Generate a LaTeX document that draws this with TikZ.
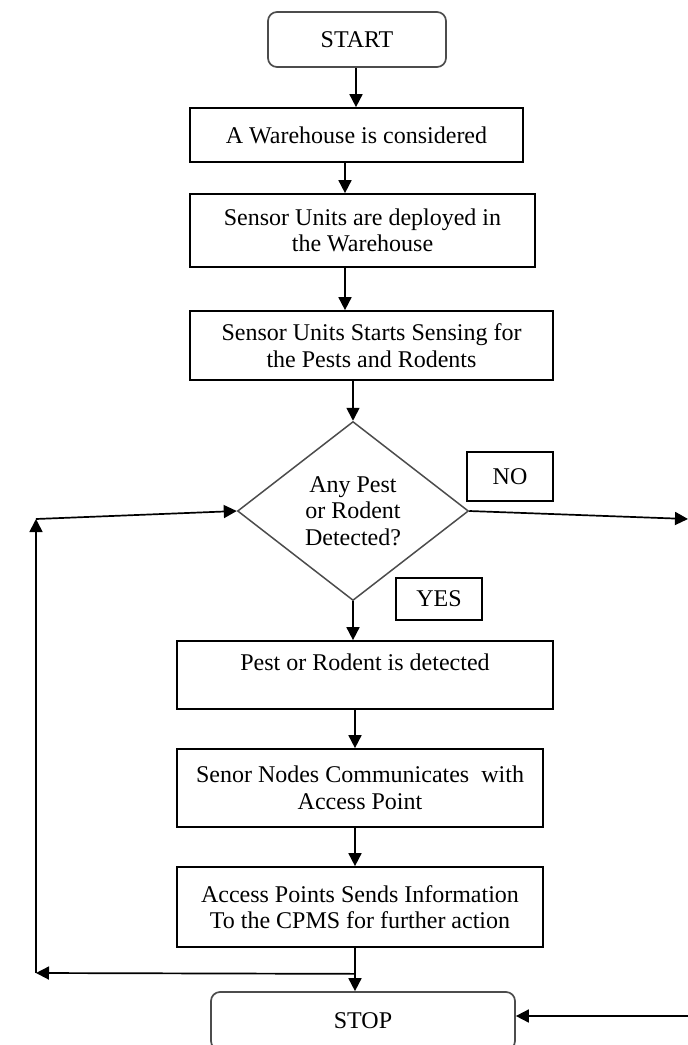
\documentclass[tikz,border=0pt]{standalone}
\usepackage{fontspec}
\setmainfont{Liberation Serif}
\usetikzlibrary{shapes.geometric,arrows.meta}
\begin{document}
\begin{tikzpicture}[x=1pt,y=-1pt,
  every node/.style={font=\fontsize{24}{26.5}\selectfont, align=center, inner sep=0pt},
  procbox/.style={draw=black, line width=1.7pt, rectangle},
  termbox/.style={draw=black!70, line width=1.7pt, rectangle, rounded corners=9pt},
  decbox/.style={draw=black!70, line width=1.5pt, diamond, aspect=1.29},
  tagbox/.style={draw=black, line width=1.7pt, rectangle},
  arr/.style={draw=black, line width=1.7pt, -{Triangle[length=13pt,width=13pt]}}
]
\useasboundingbox (0,0) rectangle (688,1045);

\node[termbox, minimum width=178pt, minimum height=55pt] (start) at (357,39.5) {START};
\node[procbox, minimum width=333pt, minimum height=54pt] (b1) at (356.5,135) {A Warehouse is considered};
\node[procbox, minimum width=345pt, minimum height=73pt] (b2) at (362.5,230.5) {Sensor Units are deployed in\\the Warehouse};
\node[procbox, minimum width=363pt, minimum height=69pt] (b3) at (371.5,345.5) {Sensor Units Starts Sensing for\\the Pests and Rodents};
\node[decbox, minimum width=231pt, minimum height=179pt] (dec) at (353,511) {Any Pest\\or Rodent\\Detected?};
\node[tagbox, minimum width=86pt, minimum height=49pt] (no) at (510,476.5) {NO};
\node[tagbox, minimum width=86pt, minimum height=42pt] (yes) at (439,599) {YES};
\node[procbox, minimum width=376pt, minimum height=68pt] (b4) at (365,675) {Pest or Rodent is detected\\\mbox{}};
\node[procbox, minimum width=366pt, minimum height=78pt] (b5) at (360,788) {Senor Nodes Communicates \ with\\Access Point};
\node[procbox, minimum width=366pt, minimum height=80pt] (b6) at (360,907) {Access Points Sends Information\\To the CPMS for further action};
\node[termbox, minimum width=304pt, minimum height=58pt] (stop) at (363,1021) {STOP};

\coordinate (fbL) at (36,973);
\coordinate (fbT) at (36,519);
\coordinate (noR) at (688,519);
\coordinate (noB) at (688,1016);

\draw[arr] (start.south -| 356,0) -- (b1.north -| 356,0);
\draw[arr] (b1.south -| 345,0) -- (b2.north -| 345,0);
\draw[arr] (b2.south -| 345,0) -- (b3.north -| 345,0);
\draw[arr] (b3.south -| dec.north) -- (dec.north);
\draw[arr] (dec.south) -- (b4.north -| dec.south);
\draw[arr] (b4.south -| 355,0) -- (b5.north -| 355,0);
\draw[arr] (b5.south -| 355,0) -- (b6.north -| 355,0);
\draw[arr] (b6.south -| 355,0) -- (stop.north -| 355,0);
\draw[arr] (b6.south -| 355,0) ++(0,26) -- (fbL);
\draw[arr] (fbL) -- (fbT);
\draw[arr] (fbT) -- (dec.west);
\draw[arr] (dec.east) -- (noR);
\draw[arr] (noB) -- (stop.east |- noB);
\end{tikzpicture}
\end{document}
